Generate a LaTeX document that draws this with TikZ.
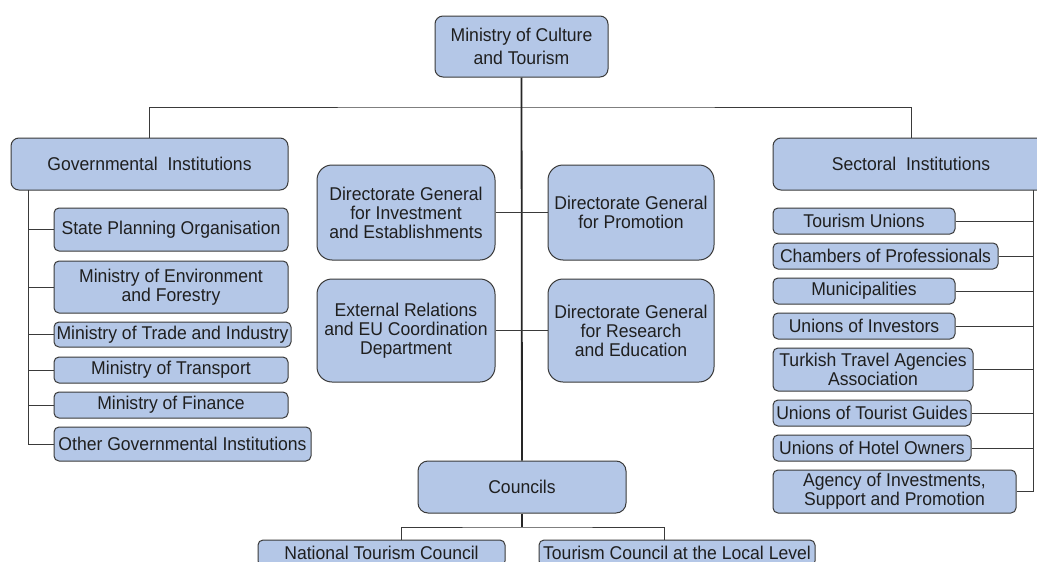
\documentclass[tikz,border=0pt]{standalone}
\usepackage{fontspec}
\setmainfont{Liberation Sans}[FakeStretch=0.95]
\usetikzlibrary{positioning}
\definecolor{boxfill}{HTML}{B4C7E7}
\definecolor{edge}{HTML}{3A3A3A}
\definecolor{ink}{HTML}{1F1F1F}

\begin{document}
\begin{tikzpicture}[x=1pt, y=-1pt,
    box/.style={draw=edge, fill=boxfill, line width=1pt, rounded corners=#1, inner sep=0pt, align=center, text=ink, font=\fontsize{18.5}{19}\selectfont},
    box/.default=5pt,
    size/.style 2 args={minimum width=#1pt, minimum height=#2pt},
    link/.style={draw=edge, line width=1pt},
    trunk/.style={draw=black!85, line width=1.8pt},
]
\useasboundingbox (0,0) rectangle (1037,562);
\clip (0,0) rectangle (1037,562);

% Ministry
\node[box=8pt, size={173}{61}, font=\fontsize{18.5}{23.5}\selectfont] (moct) at (521.5,46.5) {Ministry of Culture\\and Tourism};

% Two wings
\node[box=8pt, size={277}{52}] (gov) at (149.5,164) {Governmental\ \ Institutions};
\node[box=8pt, size={276}{52}] (sec) at (911,164) {Sectoral\ \ Institutions};

% Governmental institutions
\node[box, size={234}{43}] (spo) at (171,229.5) {State Planning Organisation};
\node[box, size={234}{52}] (mef) at (171,287) {Ministry of Environment\\and Forestry};
\node[box, size={237}{25}] (mti) at (172.5,334.5) {Ministry of Trade and Industry};
\node[box, size={234}{26}] (mtr) at (171,370) {Ministry of Transport};
\node[box, size={234}{26}] (mfi) at (171,405) {Ministry of Finance};
\node[box, size={257}{34}] (ogi) at (182.5,444) {Other Governmental Institutions};

% Central units
\node[box=15pt, size={178}{95}] (dgi) at (406,212.5) {Directorate General\\for Investment\\and Establishments};
\node[box=15pt, size={166}{95}] (dgp) at (631,212.5) {Directorate General\\for Promotion};
\node[box=15pt, size={178}{103}] (ext) at (406,330.5) {External Relations\\and EU Coordination\\Department};
\node[box=15pt, size={166}{103}] (dgr) at (631,330.5) {Directorate General\\for Research\\and Education};

% Councils
\node[box=10pt, size={208}{52}] (cou) at (522,487) {Councils};
\node[box, size={247}{26}] (ntc) at (381.5,553) {National Tourism Council};
\node[box, size={276}{26}] (tcl) at (677,553) {Tourism Council at the Local Level};

% Sectoral institutions
\node[box, size={182}{26}] (tu) at (864,221) {Tourism Unions};
\node[box, size={225}{26}] (cop) at (885.5,256) {Chambers of Professionals};
\node[box, size={182}{26}] (mun) at (864,291) {Municipalities};
\node[box, size={182}{26}] (uoi) at (864,326) {Unions of Investors};
\node[box, size={200}{43}] (tta) at (873,369.5) {Turkish Travel Agencies\\Association};
\node[box, size={198}{26}] (utg) at (872,413) {Unions of Tourist Guides};
\node[box, size={198}{26}] (uho) at (872,448) {Unions of Hotel Owners};
\node[box, size={243}{43}] (aisp) at (894.5,491.5) {Agency of Investments,\\Support and Promotion};

% Connectors
\coordinate (hbar) at (522,107);
\draw[link] (gov.north) |- (hbar) -| (sec.north);
\draw[trunk] (moct.south) -- (cou.north);
\draw[link] (dgi.east) -- (dgp.west);
\draw[link] (ext.east) -- (dgr.west);

\coordinate (gtop) at (28,190);
\draw[link] (gtop) -- (ogi.west -| gtop) -- (ogi.west);
\foreach \n in {spo,mef,mti,mtr,mfi}
    \draw[link] (\n.west) -- (\n.west -| gtop);

\coordinate (stop) at (1033,190);
\draw[link] (stop) -- (aisp.east -| stop) -- (aisp.east);
\foreach \n in {tu,cop,mun,uoi,tta,utg,uho}
    \draw[link] (\n.east) -- (\n.east -| stop);

\coordinate (cbar) at (522,527);
\draw[trunk] (cou.south) -- (cbar);
\draw[link] ([xshift=19.5pt]ntc.north) |- (cbar) -| ([xshift=-13pt]tcl.north);

\end{tikzpicture}
\end{document}
